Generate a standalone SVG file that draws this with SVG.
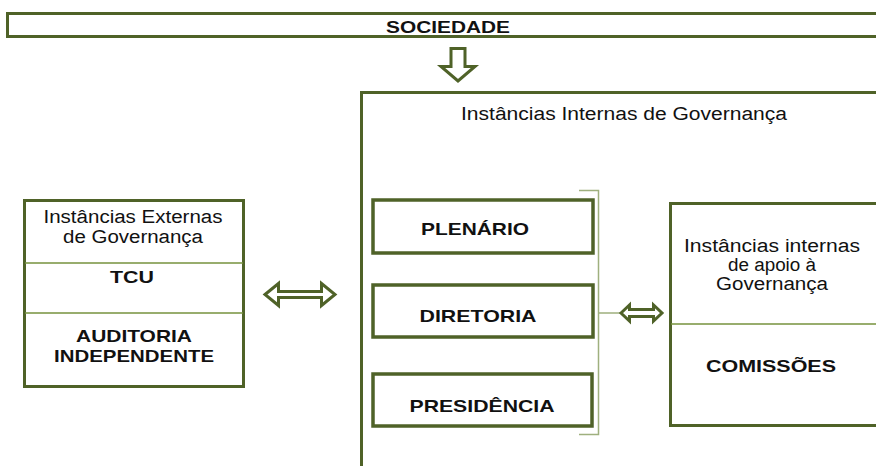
<svg xmlns="http://www.w3.org/2000/svg" width="876" height="466" viewBox="0 0 876 466">
<style>
.box{fill:#fff;stroke:#4f6228;stroke-width:3}
.thick{fill:#fff;stroke:#4f6228;stroke-width:3.5}
.div{stroke:#76923c;stroke-width:1.3;fill:none}
.brk{stroke:#9fb07e;stroke-width:1.5;fill:none}
.arr{fill:#fff;stroke:#4f6228;stroke-width:3;stroke-linejoin:miter}
text{font-family:"Liberation Sans",Arial,sans-serif;fill:#111;text-anchor:middle}
.b{font-weight:bold;font-size:17px}
.r{font-size:18px}
.s{font-weight:bold;font-size:16.5px}
</style>
<rect width="876" height="466" fill="#fff"/>
<g id="sociedade">
<rect class="box" x="7.5" y="13.5" width="880" height="23"/>
<text class="s" x="448" y="33" textLength="124" lengthAdjust="spacingAndGlyphs">SOCIEDADE</text>
</g>
<g id="externas">
<rect class="box" x="24.5" y="200.5" width="219" height="186"/>
<line class="div" x1="25" y1="263" x2="243" y2="263"/>
<line class="div" x1="25" y1="313" x2="243" y2="313"/>
<text class="r" x="133" y="223" textLength="179" lengthAdjust="spacingAndGlyphs">Instâncias Externas</text>
<text class="r" x="133" y="243" textLength="140" lengthAdjust="spacingAndGlyphs">de Governança</text>
<text class="b" x="132" y="283" textLength="44" lengthAdjust="spacingAndGlyphs">TCU</text>
<text class="b" x="134" y="342" textLength="116" lengthAdjust="spacingAndGlyphs">AUDITORIA</text>
<text class="b" x="134" y="362" textLength="160" lengthAdjust="spacingAndGlyphs">INDEPENDENTE</text>
</g>
<g id="internas">
<path class="box" d="M890,92.5 L361.5,92.5 L361.5,470"/>
<text class="r" x="624" y="120" textLength="326" lengthAdjust="spacingAndGlyphs">Instâncias Internas de Governança</text>
</g>
<g id="plenario">
<rect class="thick" x="373" y="200" width="220" height="53"/>
<text class="b" x="475" y="235" textLength="108" lengthAdjust="spacingAndGlyphs">PLENÁRIO</text>
</g>
<g id="diretoria">
<rect class="thick" x="373" y="285" width="220" height="52"/>
<text class="b" x="478" y="322" textLength="117" lengthAdjust="spacingAndGlyphs">DIRETORIA</text>
</g>
<g id="presidencia">
<rect class="thick" x="373" y="374" width="219" height="52"/>
<text class="b" x="482" y="412" textLength="145" lengthAdjust="spacingAndGlyphs">PRESIDÊNCIA</text>
</g>
<g id="apoio">
<rect class="box" x="670.5" y="203.5" width="220" height="222"/>
<line class="div" x1="671" y1="324" x2="876" y2="324"/>
<text class="r" x="772" y="252" textLength="176" lengthAdjust="spacingAndGlyphs">Instâncias internas</text>
<text class="r" x="772" y="271" textLength="88" lengthAdjust="spacingAndGlyphs">de apoio à</text>
<text class="r" x="772" y="290" textLength="112" lengthAdjust="spacingAndGlyphs">Governança</text>
<text class="b" x="771" y="372" textLength="130" lengthAdjust="spacingAndGlyphs">COMISSÕES</text>
</g>
<g id="connectors">
<path class="arr" d="M451,48.5 L465,48.5 L465,66.5 L475,66.5 L458,81 L441,66.5 L451,66.5 Z"/>
<path class="arr" d="M265,294.5 L278.5,283.5 L278.5,291.5 L321.5,291.5 L321.5,283.5 L335,294.5 L321.5,305.5 L321.5,297.5 L278.5,297.5 L278.5,305.5 Z"/>
<path class="brk" d="M579,190.5 L598.5,190.5 L598.5,434.5 L579,434.5 M598.5,313 L620,313"/>
<path class="arr" d="M621,313 L629.5,305 L629.5,309.5 L653.5,309.5 L653.5,305 L662,313 L653.5,321 L653.5,316.5 L629.5,316.5 L629.5,321 Z"/>
</g>
</svg>
